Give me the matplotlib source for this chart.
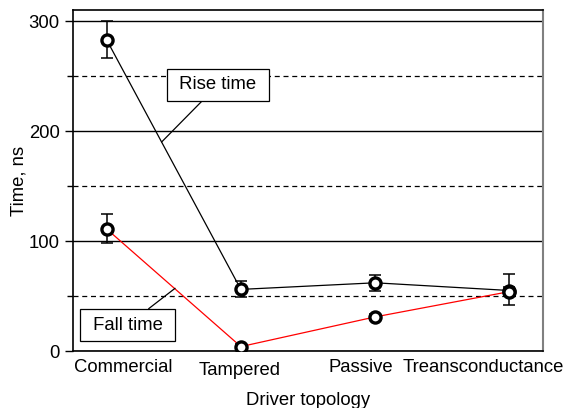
import numpy as np
import matplotlib
matplotlib.use("agg")
import matplotlib.pyplot as plt
import matplotlib.transforms as mtransforms
from matplotlib.ticker import MultipleLocator

plt.rcParams['font.family'] = ['Liberation Sans', 'DejaVu Sans']

# driver topologies and measured edge times (ns)
topologies = ["Commercial", "Tampered", "Passive", "Treansconductance"]
rise_time = [283, 56, 62, 55]
rise_err_lo = [17, 7, 7, 13]
rise_err_hi = [17, 8, 7, 15]
fall_time = [111, 4, 31, 54]
fall_err_lo = [13, 2, 3, 4]
fall_err_hi = [14, 2, 3, 4]

x = np.arange(len(topologies))

fig = plt.figure(figsize=(5.66, 4.08), dpi=100)
ax = fig.add_axes([73/566, 57/408, 470/566, 341/408])

# grid: solid majors, dashed minors
ax.yaxis.set_major_locator(MultipleLocator(100))
ax.yaxis.set_minor_locator(MultipleLocator(50))
ax.grid(which='major', axis='y', color='k', lw=1.0, ls='-')
ax.grid(which='minor', axis='y', color='k', lw=0.9, ls=(0, (4, 3)))
ax.set_axisbelow(True)

mk = dict(marker='o', ms=8, mfc='white', mec='k', mew=2.4)
ax.plot(x, rise_time, color='k', lw=0.9, zorder=3)
ax.plot(x, fall_time, color='red', lw=0.9, zorder=3)
ax.errorbar(x, rise_time, yerr=[rise_err_lo, rise_err_hi], fmt='none',
            ecolor='k', elinewidth=1.1, capsize=4, capthick=1.1, zorder=4)
ax.errorbar(x, fall_time, yerr=[fall_err_lo, fall_err_hi], fmt='none',
            ecolor='k', elinewidth=1.1, capsize=4, capthick=1.1, zorder=4)
ax.plot(x, rise_time, ls='none', zorder=5, **mk)
ax.plot(x, fall_time, ls='none', zorder=5, **mk)

ax.set_xlim(-0.25, 3.25)
ax.set_ylim(0, 310)
ax.set_xticks(x)
ax.set_xticklabels(topologies)
ax.set_yticks([0, 100, 200, 300])
ax.tick_params(axis='x', length=0, labelsize=13.3, pad=6)
ax.tick_params(axis='y', which='major', length=6, width=1, labelsize=13.3)
ax.tick_params(axis='y', which='minor', length=4, width=1)
ax.set_xlabel("Driver topology", fontsize=13.3, labelpad=9)
ax.set_ylabel("Time, ns", fontsize=13.3, labelpad=1)

# nudge category labels so the long ones stay inside the figure
shifts = [(17, 0), (-1, -3), (-14, 0), (-26, 0)]
for lab, (dx, dy) in zip(ax.get_xticklabels(), shifts):
    off = mtransforms.ScaledTranslation(dx / 100, dy / 100, fig.dpi_scale_trans)
    lab.set_transform(lab.get_transform() + off)

for side in ['left', 'bottom', 'top']:
    ax.spines[side].set_linewidth(1.2)
ax.spines['right'].set_color('#808080')
ax.spines['right'].set_linewidth(1.5)

# series labels with leader lines
box = dict(boxstyle='square,pad=0.4', fc='white', ec='k', lw=0.9)
ax.annotate(" Rise time ", xy=(0.41, 190), xytext=(0.83, 242),
            fontsize=13.3, ha='center', va='center', bbox=box,
            arrowprops=dict(arrowstyle='-', color='k', lw=0.9, shrinkA=0, shrinkB=0),
            zorder=6)
ax.annotate(" Fall time ", xy=(0.51, 57), xytext=(0.156, 23.6),
            fontsize=13.3, ha='center', va='center', bbox=box,
            arrowprops=dict(arrowstyle='-', color='k', lw=0.9, shrinkA=0, shrinkB=0),
            zorder=6)

fig.savefig("out.png", dpi=100)
